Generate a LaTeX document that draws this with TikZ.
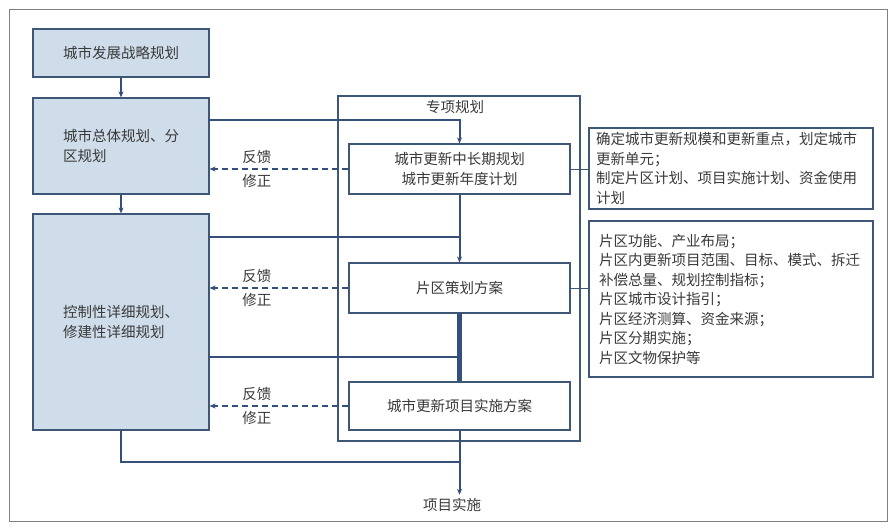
\documentclass[tikz,border=0pt]{standalone}
\usepackage{fontspec}
\newfontfamily\cjk{Noto Sans CJK SC}
\usetikzlibrary{arrows.meta,calc}

\definecolor{boxfill}{HTML}{CFDCEA}
\definecolor{boxline}{HTML}{3F5777}
\definecolor{flowline}{HTML}{34507A}
\definecolor{txt}{HTML}{3A3A3A}

\begin{document}
\begin{tikzpicture}
[x=1pt,y=-1pt,
 every node/.style={font=\cjk\fontsize{14.5}{19.5}\selectfont, text=txt},
 plan/.style={draw=boxline, line width=1.2pt, fill=boxfill, minimum width=176pt,
   text width=116pt, inner xsep=30pt, align=left},
 task/.style={draw=boxline, line width=1.2pt, fill=white, minimum width=221pt, align=center},
 note/.style={draw=boxline, line width=1.2pt, fill=white, minimum width=284pt, align=left},
 group/.style={draw=boxline, line width=1.2pt, minimum width=242pt, minimum height=345pt},
 flow/.style={draw=flowline, line width=2pt},
 back/.style={draw=flowline, line width=1.6pt, dash pattern=on 6pt off 4pt,
   -{Stealth[length=6pt,width=5pt]}},
 link/.style={draw=boxline, line width=1pt}]

  \useasboundingbox (0,0) rectangle (896,528);
  \draw[gray, line width=1pt] (9,9) rectangle (887,521);

  % left column
  \node[plan, minimum height=48pt] (A) at (121,53) {城市发展战略规划};
  \node[plan, minimum height=96pt] (B) at (121,146) {城市总体规划、分\\区规划};
  \node[plan, minimum height=216pt] (C) at (121,322) {控制性详细规划、\\修建性详细规划};

  % special plans
  \node[group] (grp) at (459,268.5) {};
  \node (grplbl) at (455,107) {专项规划};
  \node[task, minimum height=50pt] (D) at (459.5,169) {城市更新中长期规划\\城市更新年度计划};
  \node[task, minimum height=50pt] (E) at (459.5,288) {片区策划方案};
  \node[task, minimum height=48pt] (F) at (459.5,406) {城市更新项目实施方案};
  \node (out) at (452,505) {项目实施};

  % notes
  \node[note, minimum height=81pt, text width=270pt, inner xsep=7pt] (G) at (731,168.5)
    {确定城市更新规模和更新重点，划定城市\\更新单元；\\制定片区计划、项目实施计划、资金使用\\计划};
  \node[note, minimum height=156pt, text width=264pt, inner xsep=10pt] (H) at (731,299)
    {片区功能、产业布局；\\片区内更新项目范围、目标、模式、拆迁\\补偿总量、规划控制指标；\\片区城市设计指引；\\片区经济测算、资金来源；\\片区分期实施；\\片区文物保护等};

  \coordinate (b1) at (209,120);
  \coordinate (c1) at (209,237);
  \coordinate (c2) at (209,357);
  \coordinate (j) at (459.5,462);

  \draw[flow, -{Stealth[length=6pt,width=5pt]}] (A) -- (B);
  \draw[flow, -{Stealth[length=6pt,width=5pt]}] (B) -- (C);
  \draw[flow, -{Stealth[length=6pt,width=5pt]}] (b1) -| (D.north);
  \draw[flow, -{Stealth[length=6pt,width=5pt]}] (D) -- (E);
  \draw[flow] (c1) -- (c1 -| D.south);
  \draw[flow, line width=4.5pt] (E) -- (F);
  \draw[flow] (c2) -- (c2 -| E.south);
  \draw[flow, -{Stealth[length=6pt,width=5pt]}] (F) -- (F.south |- out.north);
  \draw[flow] (C.south) |- (j);

  \draw[link] (D.east) -- (G.west |- D.east);
  \draw[link] (E.east) -- (H.west |- E.east);

  % feedback
  \foreach \s/\t in {D/B, E/C, F/C}
  {
    \draw[back] (\s.west) -- (\s.west -| \t.east);
    \node (fb\s) at ($(\s.west)!0.66!(\s.west -| \t.east) + (0,-12)$) {反馈};
    \node (fx\s) at ($(\s.west)!0.66!(\s.west -| \t.east) + (0,12)$) {修正};
  }
\end{tikzpicture}
\end{document}
